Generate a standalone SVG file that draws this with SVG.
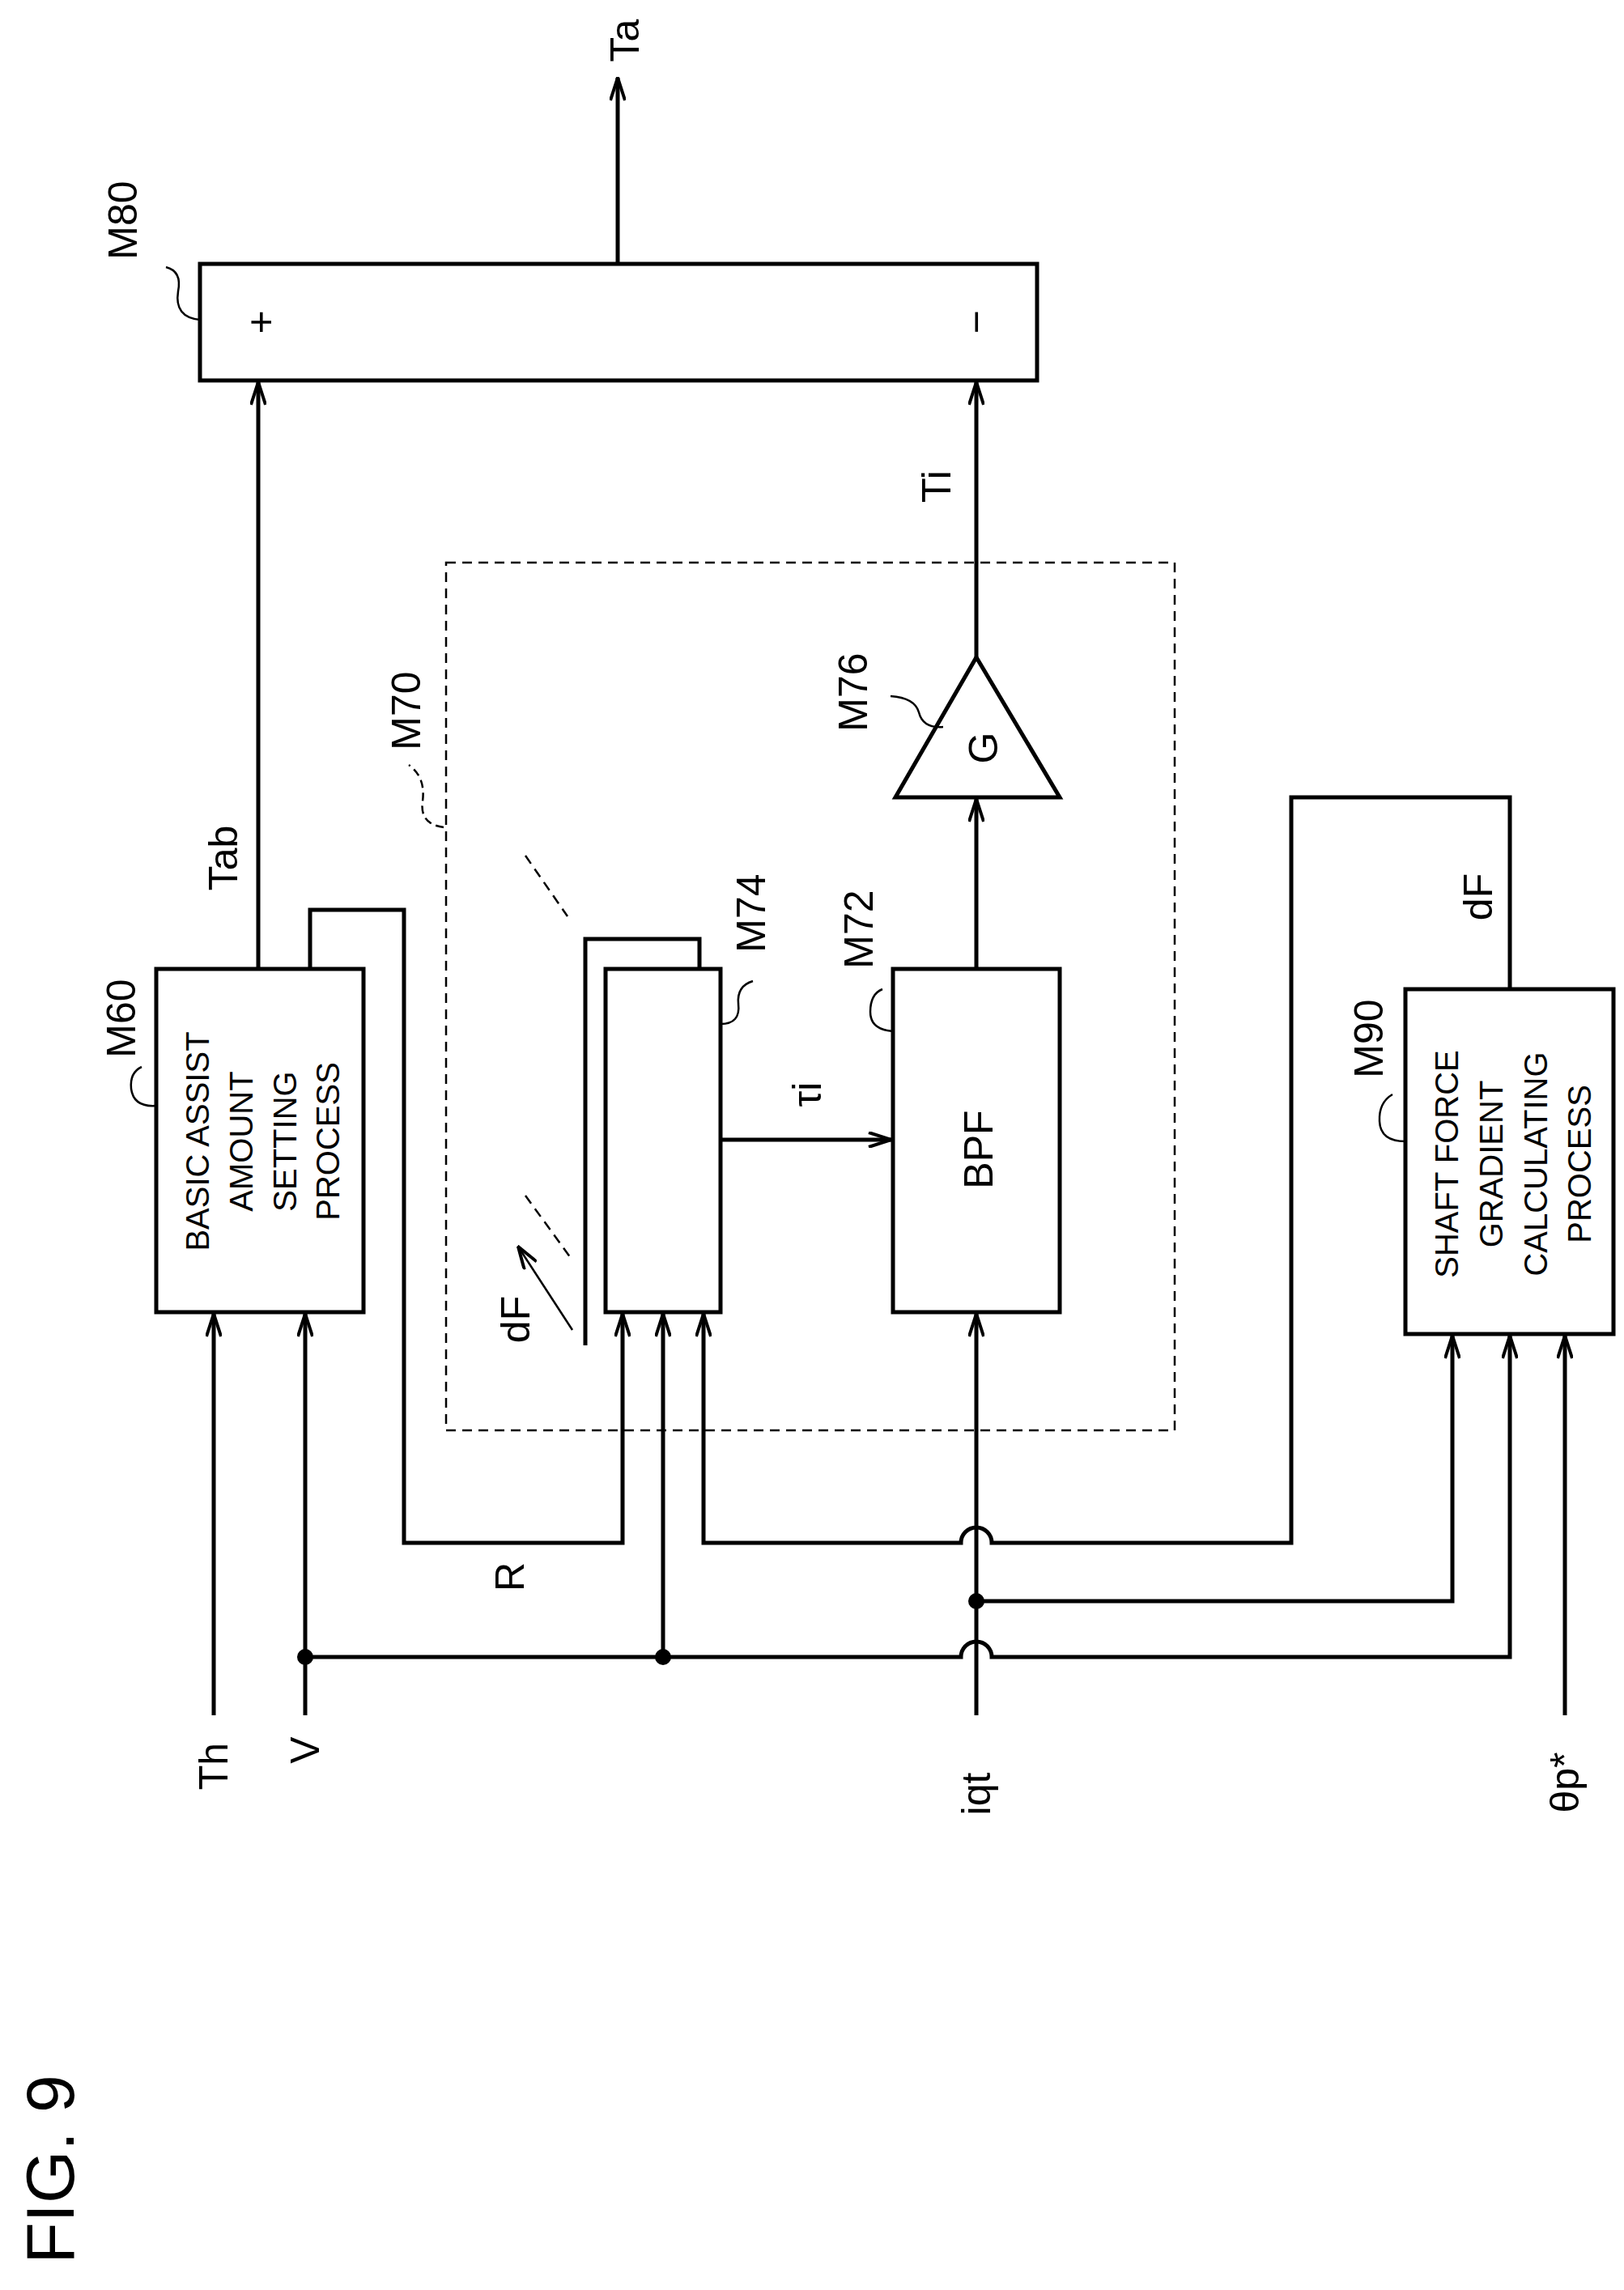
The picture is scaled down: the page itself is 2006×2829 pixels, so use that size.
<svg xmlns="http://www.w3.org/2000/svg" width="2006" height="2829" viewBox="0 0 2006 2829">
<style>
.b{fill:none;stroke:#000;stroke-width:5}
.l{fill:none;stroke:#000;stroke-width:5}
.t{font-family:"Liberation Sans",Arial,sans-serif;fill:#000;text-anchor:middle;dominant-baseline:central}
.lb{font-size:50px}
.bx{font-size:40px}
.th{fill:none;stroke:#000;stroke-width:2.5}
</style>
<defs>
<marker id="a" viewBox="0 0 30 20" refX="29" refY="10" markerWidth="30" markerHeight="20" markerUnits="userSpaceOnUse" orient="auto">
<path d="M1 1 L29 10 L1 19" fill="none" stroke="#000" stroke-width="4"/>
</marker>
</defs>
<rect width="2006" height="2829" fill="#fff"/>
<g id="M80"><rect class="b" x="247" y="326" width="1034" height="144"/>
<text class="t" font-size="50" transform="translate(322,398) rotate(-90)">+</text>
<text class="t" font-size="50" transform="translate(1206,398) rotate(-90)">−</text>
<text class="t lb" transform="translate(152,272) rotate(-90)">M80</text>
<path class="th" d="M247 395 Q215 392 220 360 Q225 335 205 330"/></g>
<g id="M70"><rect x="551" y="695" width="900" height="1072" fill="none" stroke="#000" stroke-width="2.5" stroke-dasharray="12,8"/>
<text class="t lb" transform="translate(502,878) rotate(-90)">M70</text>
<path class="th" d="M548 1022 Q518 1018 522 990 Q526 960 505 945" stroke-dasharray="10,6"/></g>
<g id="M76"><path class="b" d="M1206 812 L1309 985 L1106 985 Z"/>
<text class="t" font-size="50" transform="translate(1215,924) rotate(-90)">G</text>
<text class="t lb" transform="translate(1054,855) rotate(-90)">M76</text>
<path class="th" d="M1165 898 Q1140 900 1135 880 Q1130 862 1100 860"/></g>
<g id="M60"><rect class="b" x="193" y="1197" width="256" height="424"/>
<text class="t bx" transform="translate(244,1410) rotate(-90)">BASIC ASSIST</text>
<text class="t bx" transform="translate(298,1410) rotate(-90)">AMOUNT</text>
<text class="t bx" transform="translate(352,1410) rotate(-90)">SETTING</text>
<text class="t bx" transform="translate(405,1410) rotate(-90)">PROCESS</text>
<text class="t lb" transform="translate(150,1258) rotate(-90)">M60</text>
<path class="th" d="M193 1366 Q165 1368 162 1345 Q160 1325 175 1318"/></g>
<g id="M74"><path class="b" d="M723 1662 L723 1160 L864 1160 L864 1197"/>
<rect class="b" x="748" y="1197" width="142" height="424" fill="#fff"/>
<text class="t lb" transform="translate(928,1128) rotate(-90)">M74</text>
<path class="th" d="M890 1265 Q915 1265 912 1240 Q910 1218 930 1212"/>
<line x1="649" y1="1057" x2="701" y2="1132" stroke="#000" stroke-width="2.5" stroke-dasharray="12,8"/>
<line x1="649" y1="1477" x2="705" y2="1554" stroke="#000" stroke-width="2.5" stroke-dasharray="12,8"/>
<line x1="707" y1="1643" x2="640" y2="1540" stroke="#000" stroke-width="2.5" marker-end="url(#a)"/>
<text class="t lb" transform="translate(637,1630) rotate(-90)">dF</text></g>
<g id="M72"><rect class="b" x="1103" y="1197" width="206" height="424"/>
<text class="t" font-size="50" transform="translate(1209,1420) rotate(-90)">BPF</text>
<text class="t lb" transform="translate(1061,1148) rotate(-90)">M72</text>
<path class="th" d="M1103 1274 Q1075 1272 1075 1250 Q1075 1228 1090 1222"/></g>
<g id="M90"><rect class="b" x="1736" y="1222" width="257" height="426"/>
<text class="t bx" transform="translate(1787,1438) rotate(-90)">SHAFT FORCE</text>
<text class="t bx" transform="translate(1842,1438) rotate(-90)">GRADIENT</text>
<text class="t bx" transform="translate(1897,1438) rotate(-90)">CALCULATING</text>
<text class="t bx" transform="translate(1951,1438) rotate(-90)">PROCESS</text>
<text class="t lb" transform="translate(1691,1283) rotate(-90)">M90</text>
<path class="th" d="M1736 1410 Q1705 1410 1704 1385 Q1703 1362 1720 1352"/></g>
<g id="labels">
<text class="t lb" transform="translate(772,50) rotate(-90)">Ta</text>
<text class="t lb" transform="translate(1157,601) rotate(-90)">Ti</text>
<text class="t lb" transform="translate(276,1060) rotate(-90)">Tab</text>
<text class="t lb" transform="translate(1826,1108) rotate(-90)">dF</text>
<text class="t lb" transform="translate(997,1352) rotate(-90)">τi</text>
<text class="t lb" transform="translate(630,1948) rotate(-90)">R</text>
<text class="t lb" transform="translate(264,2182) rotate(-90)">Th</text>
<text class="t lb" transform="translate(377,2162) rotate(-90)">V</text>
<text class="t lb" transform="translate(1206,2216) rotate(-90)">iqt</text>
<text class="t lb" transform="translate(1933,2202) rotate(-90)">θp*</text>
<text class="t" font-size="84" transform="translate(62,2680) rotate(-90)">FIG. 9</text>
</g>
<g id="connectors">
<line class="l" x1="763" y1="326" x2="763" y2="96" marker-end="url(#a)"/>
<line class="l" x1="319" y1="1197" x2="319" y2="472" marker-end="url(#a)"/>
<line class="l" x1="1206" y1="812" x2="1206" y2="472" marker-end="url(#a)"/>
<line class="l" x1="1206" y1="1197" x2="1206" y2="987" marker-end="url(#a)"/>
<line class="l" x1="890" y1="1408" x2="1101" y2="1408" marker-end="url(#a)"/>
<path class="l" d="M383 1197 L383 1124 L499 1124 L499 1906 L769 1906 L769 1623" marker-end="url(#a)"/>
<path class="l" d="M1865 1222 L1865 985 L1595 985 L1595 1906 L1225 1906 A19 19 0 0 0 1187 1906 L869 1906 L869 1623" marker-end="url(#a)"/>
<line class="l" x1="264" y1="2119" x2="264" y2="1623" marker-end="url(#a)"/>
<line class="l" x1="377" y1="2119" x2="377" y2="1623" marker-end="url(#a)"/>
<line class="l" x1="819" y1="2047" x2="819" y2="1623" marker-end="url(#a)"/>
<path class="l" d="M377 2047 L1187 2047 A19 19 0 0 1 1225 2047 L1865 2047 L1865 1650" marker-end="url(#a)"/>
<line class="l" x1="1206" y1="2119" x2="1206" y2="1623" marker-end="url(#a)"/>
<path class="l" d="M1206 1978 L1794 1978 L1794 1650" marker-end="url(#a)"/>
<line class="l" x1="1933" y1="2119" x2="1933" y2="1650" marker-end="url(#a)"/>
<circle cx="377" cy="2047" r="10"/>
<circle cx="819" cy="2047" r="10"/>
<circle cx="1206" cy="1978" r="10"/>
</g>
</svg>
